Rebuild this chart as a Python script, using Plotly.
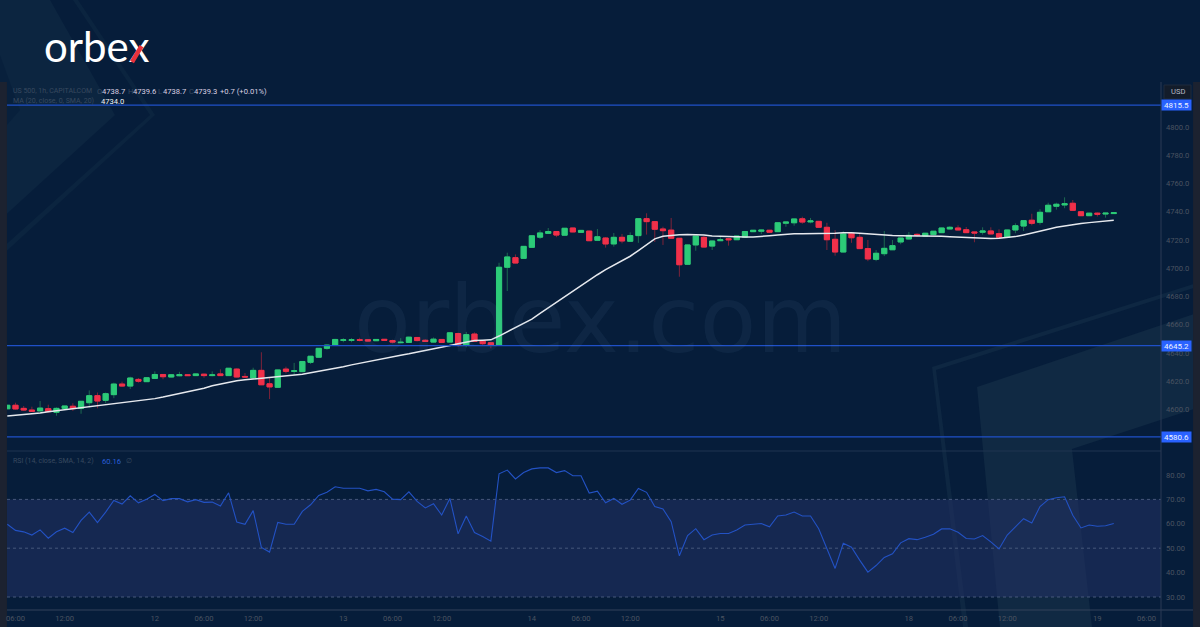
import plotly.graph_objects as go

bars = list(range(136))
opens = [4600.5,4603,4600.8,4599.6,4599,4600.6,4598,4600.8,4602.3,4600.8,4604.8,4609.8,4606.5,4610.5,4618,4616.6,4621.3,4619.7,4622,4624.8,
4623,4623.9,4624.6,4624,4625,4624,4625.2,4624,4628.6,4623.4,4622.3,4627.7,4618.2,4615.7,4628.6,4627,4626.8,4633.4,4637,4643.3,
4645.6,4649,4649,4649.4,4649.4,4648.7,4649.7,4648.8,4647.3,4647.5,4651,4649,4647.7,4649.6,4647.7,4653.8,4645.6,4653.4,4648.4,4647.3,
4645.6,4700.7,4707.5,4707,4714.8,4722,4724.7,4726,4723.4,4728.5,4725.4,4726.3,4719.8,4721.4,4717.2,4721.9,4719.1,4723.1,4735.1,4733,
4727.8,4727,4721.2,4702.8,4716.5,4721.9,4715.7,4719.5,4720.9,4720.2,4722,4725.9,4726.2,4726.9,4725.9,4731.9,4732.2,4735,4732.8,4733.2,
4729,4720.5,4711.5,4724.8,4721.9,4713.9,4706.3,4710.3,4713.1,4718.6,4720.7,4724,4722.8,4723.8,4725.2,4727.8,4728.5,4727.3,4725.7,4725.5,
4726.4,4724.5,4721.9,4727.1,4729.9,4734,4732.5,4740,4743.9,4744.8,4746,4740,4737.2,4739,4738.4,4738.7]
highs = [4603,4604.8,4602.5,4602,4606,4603.4,4601.5,4602.5,4604.4,4606,4613.5,4612,4612,4619,4619.7,4623.2,4622.3,4622.7,4627,4625,
4624.8,4626.7,4625,4625.4,4625.4,4627,4628.5,4629.4,4629.2,4625.8,4629.6,4640.5,4623,4628.2,4630.3,4633,4634.2,4637.9,4643.5,4646,
4650,4650.5,4650.5,4650.8,4649.6,4649.8,4649.9,4649.4,4650.5,4651.5,4651.3,4649.7,4651,4649.9,4654.6,4654.4,4654.9,4654.6,4648.9,4647.7,
4703.9,4711,4709.8,4715.7,4723.2,4726.9,4728.5,4726.2,4728.5,4728.7,4727.1,4726.5,4727.8,4722.1,4725,4724.3,4725.4,4735.4,4738.9,4733.4,
4729.4,4735.6,4721.4,4716.7,4723,4723,4719.5,4722.8,4721.6,4723,4726.2,4727.1,4727.3,4727.1,4732.4,4732.9,4735.1,4736.5,4735.6,4733.5,
4732.2,4727,4726.2,4725.2,4724.8,4720,4712.9,4726.4,4720,4721.6,4725.7,4724.7,4725,4726.4,4728.7,4729.8,4730.4,4729.2,4725.9,4729,
4729,4727.6,4727.3,4731.8,4734,4738.6,4741.8,4746.4,4746.4,4750.2,4748.3,4740.2,4739.2,4739.5,4739.2,4739.6]
lows = [4600.4,4600,4599,4598.2,4598.8,4598,4595.6,4600.6,4599,4597,4601.3,4600.8,4604.4,4608,4616,4614.5,4619,4619.5,4622,4621.4,
4622.8,4623.5,4623.8,4623.8,4622.5,4623.5,4624,4623.8,4622.8,4622.3,4622,4617.3,4607.4,4615.3,4625.6,4624.4,4626.6,4632.2,4636.8,4642.3,
4645.4,4647.6,4647.6,4648.2,4648.3,4648.5,4648.8,4646.8,4647.2,4647.3,4648.2,4647.9,4647.5,4647.3,4647.5,4644.4,4644,4648,4645.3,4643.3,
4645,4683.9,4703.5,4706.8,4714.6,4720.7,4724.5,4722,4723.2,4725.5,4725,4719.3,4719.5,4714.6,4715.3,4717.6,4718.9,4718,4723.8,4718.6,
4716.5,4721,4694,4702.6,4712.4,4714.8,4712.9,4719.3,4716,4720,4721.8,4725.7,4724.2,4725.3,4725.7,4729.4,4730.1,4731.5,4731.8,4728.8,
4712.9,4708.9,4711.3,4718,4713.7,4705,4705,4708.6,4712.9,4717,4720.5,4722.3,4722.6,4723.6,4725,4727.6,4726.9,4725,4718.4,4723.8,
4724.1,4721.7,4721.7,4724.8,4726.4,4730.4,4730.9,4739.8,4741.5,4742.5,4740.8,4737,4737,4736.6,4735.8,4738.7]
closes = [4603,4600.4,4599.6,4598.7,4601,4598.5,4600.8,4602.5,4600.6,4605.8,4609.8,4606,4611.2,4618,4616.6,4622.3,4620,4622.5,4624.8,4623.2,
4624.6,4624.6,4624,4625.2,4624,4624.5,4624,4629.2,4623,4623,4627.7,4617.5,4616,4628,4627,4627.4,4634,4637.7,4643.3,4645.6,
4649.6,4649.3,4649.3,4649,4648.5,4649.6,4649,4647.7,4647.6,4651.2,4648.8,4648.2,4649.8,4647.5,4654.3,4645.6,4653,4648.2,4646.6,4645.4,
4700.7,4708,4703.7,4715.5,4723,4725,4726,4723.5,4728.3,4725.7,4726.8,4719.5,4722.3,4717.2,4721.9,4719.3,4723.1,4735.1,4733,4727.6,
4726.6,4721.2,4702.5,4716.5,4722.8,4715,4719.3,4720.2,4720.2,4722.8,4726,4726.9,4727,4725.5,4732.2,4732.7,4734.9,4732.7,4733.5,4729,
4720.2,4711.5,4724.3,4721.6,4713.9,4706.6,4710.6,4714.1,4716,4721.4,4723.3,4723.3,4724.8,4726.2,4728.5,4729,4727.1,4725.2,4725,4726.4,
4724.3,4721.9,4727.1,4730.1,4733.7,4731.8,4739.6,4744.6,4745.3,4745.7,4741,4737.2,4739,4738.3,4739,4739.3]
ma20 = [4595.4,4595.8,4596.3,4596.8,4597.5,4598.4,4599.1,4600.2,4600.9,4601.6,4602.3,4603,4603.6,4604.2,4604.8,4605.4,4606,4606.8,4607.7,4608.8,
4610,4611,4612.6,4613.8,4615,4616.8,4618,4619.3,4620.4,4621,4621.6,4622.2,4622.9,4623.4,4623.8,4624.2,4624.9,4626,4627,4627.8,
4629,4630.2,4631.6,4632.8,4634,4635.2,4636.2,4637.4,4638.4,4639.4,4640.5,4641.8,4643.2,4644.2,4645.3,4646.6,4647.9,4648.8,4649,4649.3,
4652,4655,4657.5,4660.5,4664,4668,4672,4676,4680,4684,4687.8,4691.6,4695.4,4699,4702,4705,4708.5,4712.5,4716.5,4720.8,
4722.6,4723.4,4723.8,4723.9,4723.9,4723.6,4722.9,4722.6,4722.3,4722,4722.1,4722.2,4722.4,4723,4723.5,4724,4724.4,4724.4,4724.4,4724.4,
4724.4,4724.8,4725.1,4725.2,4724.7,4724.2,4723.9,4723.5,4723.2,4723,4723,4722.9,4722.8,4722.8,4722.6,4722.3,4722,4721.6,4721.2,4721,
4721,4721.2,4721.7,4722.4,4723.6,4724.8,4726,4727.6,4729,4730,4730.8,4731.6,4732.3,4733,4733.6,4734]
rsi = [59.8,57.3,56.7,55.4,57.5,54.1,56.7,58.2,56.4,61.4,64.8,60.5,64.8,69.6,68.1,71.5,68.6,70.1,72,69.5,
70.3,70.3,69,69.9,68.8,68.9,67.3,72.7,60.7,59.8,65.4,50.3,48.4,60.6,59.8,59.8,65.1,67.8,71.6,72.9,
75.2,74.6,74.6,74.6,73.5,74.1,73.1,70.1,69.9,73.1,69.2,66.5,68.2,63.6,70.4,55.9,63.2,56.4,54.8,52.9,
80.5,82,78.4,81,82.5,82.9,82.9,81,81.8,79.7,79.7,72.6,73.4,68.6,70.4,68,69.7,74.5,72.9,67.1,
66.1,60.9,46.9,55.2,58,53.5,55.4,56,56,57.5,59.5,59.9,60.1,58.8,63.2,63.6,64.8,63.2,63.2,58,
49.5,41.7,52,50.4,45.1,40.2,42.9,46.2,47.7,52.2,53.9,53.5,54.5,55.7,57.9,58,56.5,54,53.8,55.2,
52.6,49.7,55.4,58.7,62.1,60.3,67.1,69.9,70.7,71.1,63.5,58.3,59.5,59,59.2,60.1]

level_values = [4815.5, 4645.2, 4580.6]
price_ticks = [4600, 4620, 4640, 4660, 4680, 4700, 4720, 4740, 4760, 4780, 4800]
rsi_ticks = [30, 40, 50, 60, 70, 80]
rsi_dashes = [30, 50, 70]
time_positions = [1, 7, 18, 24, 30, 41, 47, 53, 64, 70, 76, 87, 93, 99, 110, 116, 122, 133, 139]
time_labels = ["06:00", "12:00", "12", "06:00", "12:00", "13", "06:00", "12:00", "14", "06:00", "12:00",
               "15", "06:00", "12:00", "18", "06:00", "12:00", "19", "06:00"]

W, H = 1200, 627
BG = "#061d3a"
GREEN, RED = "#2ccb78", "#f0304a"
DIMG, DIMR = "#1c6a50", "#7d2339"
AXTXT = "#4a5361"
BLUE = "#1f50c8"
FONT = "Roboto, Liberation Sans, sans-serif"
SIZE = 7.6

L, R, TOP, MID, BOT = 7, 1161, 82, 451, 610
def fx(p): return p / W
def fy(p): return 1 - p / H

fig = go.Figure()
body_hi = [max(o, c) for o, c in zip(opens, closes)]
body_lo = [min(o, c) for o, c in zip(opens, closes)]

fig.add_trace(go.Candlestick(x=bars, open=opens, high=highs, low=lows, close=closes, whiskerwidth=0,
    increasing=dict(line=dict(color=DIMG, width=1), fillcolor=DIMG),
    decreasing=dict(line=dict(color=DIMR, width=1), fillcolor=DIMR),
    hoverinfo="skip", showlegend=False, xaxis="x", yaxis="y"))
fig.add_trace(go.Candlestick(x=bars, open=opens, high=body_hi, low=body_lo, close=closes, whiskerwidth=0,
    increasing=dict(line=dict(color=GREEN, width=1), fillcolor=GREEN),
    decreasing=dict(line=dict(color=RED, width=1), fillcolor=RED),
    hoverinfo="skip", showlegend=False, xaxis="x", yaxis="y"))
fig.add_trace(go.Scatter(x=bars, y=ma20, mode="lines", line=dict(color="#e6e9ee", width=1.5),
    hoverinfo="skip", showlegend=False, xaxis="x", yaxis="y"))
fig.add_trace(go.Scatter(x=bars, y=rsi, mode="lines", line=dict(color="#2352c4", width=1.1),
    hoverinfo="skip", showlegend=False, xaxis="x2", yaxis="y2"))

shapes = []
def poly(points, color):
    d = "M " + " L ".join(f"{fx(x):.4f},{fy(y):.4f}" for x, y in points) + " Z"
    shapes.append(dict(type="path", path=d, xref="paper", yref="paper", line=dict(width=0),
                       fillcolor=color, layer="below"))

# decorative background shapes
poly([(0, 0), (50, 0), (115, 115), (0, 220)], "#0c2540")
poly([(0, 55), (20, 110), (0, 133)], "#08203c")
poly([(73, 0), (78, 0), (155, 115), (0, 257), (0, 250), (150, 115)], "#0b243f")
poly([(932, 367), (1200, 282), (1200, 286), (936, 370), (968, 627), (963, 627)], "#0e2742")
poly([(977, 387), (1200, 312), (1200, 407), (1072, 449), (1092, 627), (1000, 627)], "#102943")
# side strips
poly([(0, 82), (L, 82), (L, H), (0, H)], "#1c2230")
poly([(1193, 82), (W, 82), (W, H), (1193, H)], "#1c2230")

# RSI band and dashed guides
shapes.append(dict(type="rect", xref="x2 domain", yref="y2", x0=0, x1=1, y0=rsi_dashes[0], y1=rsi_dashes[-1],
                   fillcolor="rgba(34,50,100,0.55)", line=dict(width=0), layer="below"))
for v in rsi_dashes:
    shapes.append(dict(type="line", xref="x2 domain", yref="y2", x0=0, x1=1, y0=v, y1=v,
                       line=dict(color="#46587a", width=1, dash="3px,3px"), layer="below"))
# levels
for v in level_values:
    shapes.append(dict(type="line", xref="x domain", yref="y", x0=0, x1=1, y0=v, y1=v,
                       line=dict(color=BLUE, width=1.4), layer="above"))
# pane frame
shapes.append(dict(type="line", xref="paper", yref="paper", x0=fx(L), x1=fx(R), y0=fy(MID), y1=fy(MID),
                   line=dict(color="#1e3450", width=1)))
shapes.append(dict(type="line", xref="paper", yref="paper", x0=fx(L), x1=fx(1193), y0=fy(BOT), y1=fy(BOT),
                   line=dict(color="#33425a", width=1)))
shapes.append(dict(type="line", xref="paper", yref="paper", x0=fx(R), x1=fx(R), y0=fy(82), y1=fy(H),
                   line=dict(color="#2a3b55", width=1)))

ann = []
def text(x, y, s, size=SIZE, color=AXTXT, anchor="left", **kw):
    ann.append(dict(x=fx(x), y=fy(y), xref="paper", yref="paper", text=s, showarrow=False, xanchor=anchor,
                    yanchor="middle", font=dict(family=FONT, size=size, color=color), **kw))

# watermark (translucent, annotations sit above the marks)
ann.append(dict(x=fx(600), y=fy(320), xref="paper", yref="paper", showarrow=False, text="orbex.com",
                font=dict(family="DejaVu Sans, sans-serif", size=93, color="rgba(130,165,210,0.07)"),
                xanchor="center", yanchor="middle"))

# level tags on the price scale
for v in level_values:
    ann.append(dict(x=fx(1176), y=v, xref="paper", yref="y", text=f"{v:.1f}", showarrow=False,
                    font=dict(family=FONT, size=8, color="#eef2ff"), bgcolor="#2962ff", borderpad=0,
                    width=29, height=10, xanchor="center", yanchor="middle"))

# legends
DIM = "#38495f"
VAL = "#d9cfe0"
S = -1.5
LEG = 7
text(10.5, 91, "US 500, 1h, CAPITALCOM", color=DIM, size=LEG)
text(96 + S, 91, "O", color=DIM)
text(101 + S, 91, "4738.7", color=VAL)
text(127 + S, 91, "H", color=DIM)
text(132 + S, 91, "4739.6", color=VAL)
text(158 + S, 91, "L", color=DIM)
text(162 + S, 91, "4738.7", color=VAL)
text(188 + S, 91, "C", color=DIM)
text(193 + S, 91, "4739.3", color=VAL)
text(219 + S, 91, "+0.7 (+0.01%)", color=VAL)
text(10.5, 101.5, "MA (20, close, 0, SMA, 20)", color=DIM, size=LEG)
text(100 + S, 101.5, "4734.0", color="#f2f3f6")
text(10.5, 461, "RSI (14, close, SMA, 14, 2)", color=DIM, size=LEG)
text(101 + S, 461, "60.16", color="#2a5fd8")
text(125 + S, 461, "∅", color=DIM, size=6.5)

# unit box
shapes.append(dict(type="rect", xref="paper", yref="paper", x0=fx(1164), x1=fx(1191), y0=fy(85), y1=fy(99),
                   fillcolor="#131c2a", line=dict(color="#1e2a3c", width=1)))
text(1177.5, 92, "USD", color="#b4bac4", anchor="center")

# logo: white word with the rising stroke of the x in red
ann.append(dict(x=fx(41.5), y=fy(46), xref="paper", yref="paper", showarrow=False, xanchor="left", yanchor="middle",
                text="orbex", font=dict(family="Lato, sans-serif", size=42, color="#ffffff")))
ann.append(dict(x=fx(132), y=fy(62), xref="paper", yref="paper", text=" ", showarrow=True, arrowhead=0,
                arrowwidth=4.5, arrowcolor="#e8323c", ax=12, ay=-20, standoff=0))

xr = [(L - 7.3) / 8.196, (R - 7.3) / 8.196]
px_main = 1.4125
px_rsi = 2.44
fig.update_layout(
    width=W, height=H, margin=dict(l=0, r=0, t=0, b=0), paper_bgcolor=BG, plot_bgcolor="rgba(0,0,0,0)",
    boxgap=0.1, boxmode="overlay", showlegend=False, shapes=shapes, annotations=ann,
    font=dict(family=FONT, size=SIZE, color=AXTXT),
    xaxis=dict(domain=[fx(L), fx(R)], range=xr, anchor="y", showgrid=False, zeroline=False, showticklabels=False,
               ticks="", rangeslider=dict(visible=False), showline=False),
    yaxis=dict(domain=[fy(MID), fy(TOP)], range=[4600 + (409.5 - MID) / px_main, 4600 + (409.5 - TOP) / px_main],
               side="right", anchor="x", showgrid=False, zeroline=False, tickmode="array", tickvals=price_ticks,
               ticktext=[f"{t:.1f}" for t in price_ticks], ticks="", showline=False, ticklabelstandoff=4,
               tickfont=dict(family=FONT, size=SIZE, color=AXTXT)),
    xaxis2=dict(domain=[fx(L), fx(R)], range=xr, anchor="y2", showgrid=False, zeroline=False, tickmode="array",
                tickvals=time_positions, ticktext=time_labels, ticks="", showline=False, ticklabelstandoff=2,
                tickfont=dict(family=FONT, size=SIZE, color=AXTXT)),
    yaxis2=dict(domain=[fy(BOT), fy(MID)], range=[80 + (475 - BOT) / px_rsi, 80 + (475 - MID) / px_rsi],
                side="right", anchor="x2", showgrid=False, zeroline=False, tickmode="array", tickvals=rsi_ticks,
                ticktext=[f"{t:.2f}" for t in rsi_ticks], ticks="", showline=False, ticklabelstandoff=4,
                tickfont=dict(family=FONT, size=SIZE, color=AXTXT)),
)
fig.write_html("out.html", post_script="document.body.style.margin='0';", config={"displayModeBar": False})
